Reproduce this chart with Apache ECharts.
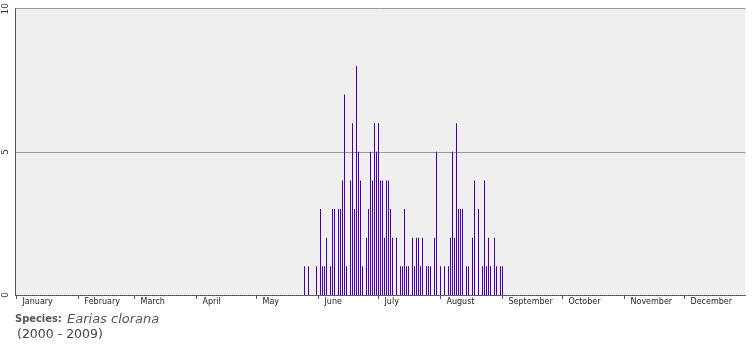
<!DOCTYPE html>
<html>
<head>
<meta charset="utf-8">
<script src="https://cdn.jsdelivr.net/npm/echarts@6/dist/echarts.min.js"></script>
<style>
html,body{margin:0;padding:0;background:#fff;}
#chart{width:755px;height:350px;}
</style>
</head>
<body>
<div id="chart"></div>
<script>
// ---- data ----
var monthNames = ["January","February","March","April","May","June","July","August","September","October","November","December"];
var monthDays = [31,28,31,30,31,30,31,31,30,31,30,31];
var recordDates = ["05-25","05-27","05-31","06-02","06-03","06-04","06-05","06-07","06-08","06-09",
  "06-11","06-12","06-13","06-14","06-15","06-17","06-18","06-19","06-20","06-21",
  "06-22","06-23","06-25","06-26","06-27","06-28","06-29","06-30","07-01","07-02",
  "07-03","07-04","07-05","07-06","07-07","07-08","07-10","07-12","07-13","07-14",
  "07-15","07-16","07-18","07-19","07-20","07-21","07-22","07-23","07-25","07-26",
  "07-27","07-29","07-30","08-01","08-03","08-05","08-06","08-07","08-08","08-09",
  "08-10","08-11","08-12","08-14","08-15","08-17","08-18","08-20","08-22","08-23",
  "08-24","08-25","08-26","08-28","08-29","08-31","09-01"];
var recordCounts = [1,1,1,3,1,1,2,1,3,3,
  3,3,4,7,1,4,6,3,8,5,
  4,1,2,3,5,4,6,5,6,4,
  4,2,4,4,3,2,2,1,1,3,
  1,1,2,1,2,2,1,2,1,1,
  1,2,5,1,1,1,2,5,2,6,
  3,3,3,1,1,2,4,3,1,4,
  1,2,1,2,1,1,1];
var yTicks = [0,5,10];
var speciesLabel = "Species:";
var speciesName = "Earias clorana";
var yearRange = "(2000 - 2009)";

// ---- build categories (one per day of year) ----
var categories = [];
var monthStartIdx = {};
for (var m = 0; m < 12; m++) {
  for (var d = 1; d <= monthDays[m]; d++) {
    var key = (m < 9 ? "0" : "") + (m + 1) + "-" + (d < 10 ? "0" : "") + d;
    if (d === 1) monthStartIdx[categories.length] = monthNames[m];
    categories.push(key);
  }
}
var countMap = {};
recordDates.forEach(function (k, i) { countMap[k] = recordCounts[i]; });
var seriesData = categories.map(function (k) { return countMap[k] !== undefined ? countMap[k] : null; });

var chart = echarts.init(document.getElementById('chart'), null, {renderer: 'canvas'});
var axisFont = 'DejaVu Sans';
chart.setOption({
  animation: false,
  grid: {left: 15.5, right: 9.5, top: 5, bottom: 55, show: true, backgroundColor: '#efefef', borderWidth: 0},
  xAxis: [{
    type: 'category', data: categories, boundaryGap: true, position: 'bottom',
    axisLine: {show: true, lineStyle: {color: '#555', width: 1}},
    axisTick: {show: true, interval: 0, length: 1, lineStyle: {color: '#666'}},
    axisLabel: {show: false}, splitLine: {show: false}
  }, {
    type: 'category', data: categories, boundaryGap: true, position: 'bottom',
    axisLine: {show: false},
    axisTick: {show: true, alignWithLabel: true, length: 4, lineStyle: {color: '#555'},
      interval: function (i) { return monthStartIdx[i] !== undefined; }},
    axisLabel: {show: true, align: 'left', margin: 3, padding: [0, 0, 0, 6],
      fontFamily: axisFont, fontSize: 8, color: '#222',
      interval: function (i) { return monthStartIdx[i] !== undefined; },
      formatter: function (v, i) { return monthStartIdx[i] || ''; }},
    splitLine: {show: false}
  }],
  yAxis: {
    type: 'value', min: yTicks[0], max: yTicks[yTicks.length - 1], interval: yTicks[1] - yTicks[0],
    axisLine: {show: true, lineStyle: {color: '#555'}},
    axisTick: {show: false},
    axisLabel: {rotate: 90, margin: 5, fontFamily: axisFont, fontSize: 9, color: '#333'},
    splitLine: {show: true, lineStyle: {color: '#999', width: 1}}
  },
  series: [{
    type: 'bar', xAxisIndex: 0, data: seriesData, barWidth: 1,
    itemStyle: {color: '#4400aa'}
  }],
  graphic: [
    {type: 'text', left: 15, top: 314, style: {text: speciesLabel, font: 'bold 11px "DejaVu Sans Condensed", "DejaVu Sans"', fill: '#555'}},
    {type: 'text', left: 67, top: 313, style: {text: speciesName, font: 'italic 13px "DejaVu Sans"', fill: '#555'}},
    {type: 'text', left: 17, top: 328, style: {text: yearRange, font: '12.5px "DejaVu Sans"', fill: '#444'}}
  ]
});
</script>
</body>
</html>
